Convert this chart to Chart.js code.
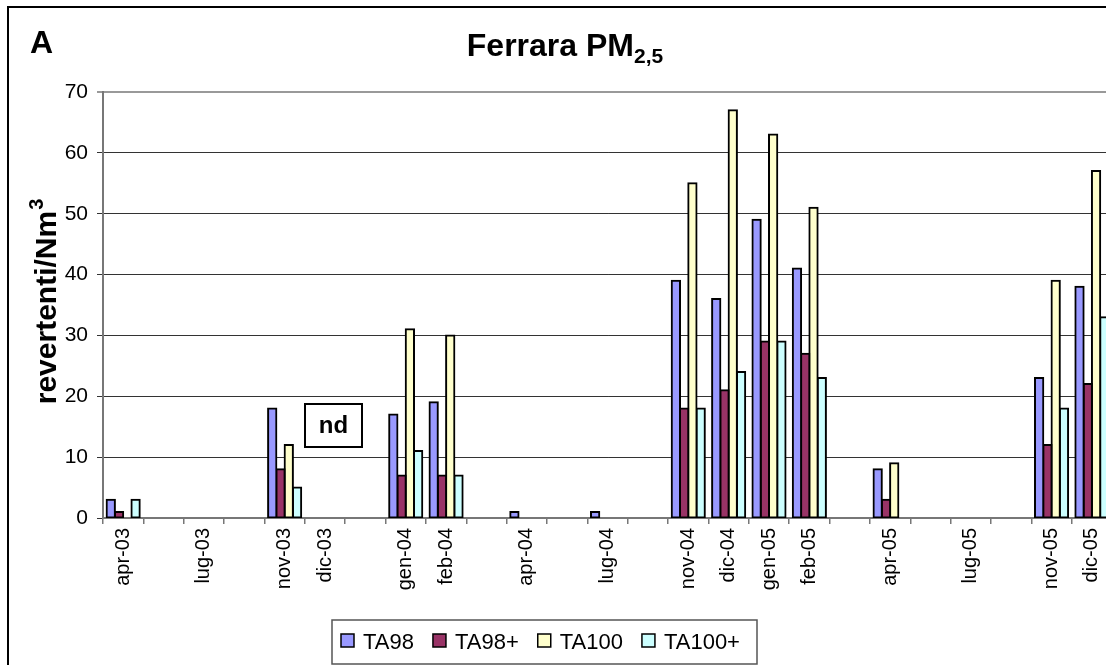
<!DOCTYPE html>
<html>
<head>
<meta charset="utf-8">
<script src="https://cdn.jsdelivr.net/npm/chart.js@4.4.1/dist/chart.umd.min.js"></script>
<style>
  html, body { margin: 0; padding: 0; overflow: hidden; background: #fff; }
  canvas { display: block; }
</style>
</head>
<body>
<canvas id="chart" width="1120" height="665" style="width:1120px;height:665px"></canvas>
<script>
// Sampling months (blank slots keep the time spacing between campaigns)
const months = ['apr-03', '', 'lug-03', '', 'nov-03', 'dic-03', '', 'gen-04', 'feb-04', '',
                'apr-04', '', 'lug-04', '', 'nov-04', 'dic-04', 'gen-05', 'feb-05', '',
                'apr-05', '', 'lug-05', '', 'nov-05', 'dic-05'];

// Revertants per Nm3 for each Salmonella strain
const ta98      = [3, null, null, null, 18, null, null, 17, 19, null, 1, null, 1, null, 39, 36, 49, 41, null, 8, null, null, null, 23, 38];
const ta98plus  = [1, null, null, null, 8, null, null, 7, 7, null, null, null, null, null, 18, 21, 29, 27, null, 3, null, null, null, 12, 22];
const ta100     = [null, null, null, null, 12, null, null, 31, 30, null, null, null, null, null, 55, 67, 63, 51, null, 9, null, null, null, 39, 57];
const ta100plus = [3, null, null, null, 5, null, null, 11, 7, null, null, null, null, null, 18, 24, 29, 23, null, null, null, null, null, 18, 33];

const seriesNames  = ['TA98', 'TA98+', 'TA100', 'TA100+'];
const seriesColors = ['#9999FF', '#993366', '#FFFFCC', '#CCFFFF'];
const yTicks = [0, 10, 20, 30, 40, 50, 60, 70];

const FONT = '"Liberation Sans", Arial, Helvetica, sans-serif';

const seriesValues = [ta98, ta98plus, ta100, ta100plus];
const datasets = seriesValues.map((vals, i) => ({
  label: seriesNames[i],
  data: vals,
  backgroundColor: seriesColors[i],
  borderColor: '#000',
  borderWidth: 2,
  borderSkipped: false,
  inflateAmount: 1,
  categoryPercentage: 0.82,
  barPercentage: 1.0
}));

// Frame, titles, "nd" note and boxed legend
const decorations = {
  id: 'decorations',
  beforeDraw(chart) {
    const ctx = chart.ctx;
    ctx.save();
    ctx.fillStyle = '#fff';
    ctx.fillRect(0, 0, chart.width, chart.height);
    ctx.restore();
  },
  afterDraw(chart) {
    const ctx = chart.ctx;
    ctx.save();

    // outer frame
    ctx.strokeStyle = '#000';
    ctx.lineWidth = 2;
    ctx.beginPath();
    ctx.moveTo(8, 700);
    ctx.lineTo(8, 7);
    ctx.lineTo(1200, 7);
    ctx.stroke();

    ctx.fillStyle = '#000';
    ctx.textBaseline = 'alphabetic';

    // panel letter
    ctx.font = 'bold 32px ' + FONT;
    ctx.textAlign = 'left';
    ctx.fillText('A', 30, 53);

    // chart title with subscript
    const main = 'Ferrara PM', sub = '2,5';
    ctx.font = 'bold 32px ' + FONT;
    const wMain = ctx.measureText(main).width;
    ctx.font = 'bold 21px ' + FONT;
    const wSub = ctx.measureText(sub).width;
    const tx = 565 - (wMain + wSub) / 2;
    ctx.font = 'bold 32px ' + FONT;
    ctx.fillText(main, tx, 56);
    ctx.font = 'bold 21px ' + FONT;
    ctx.fillText(sub, tx + wMain, 63);

    // y-axis title with superscript
    ctx.save();
    ctx.translate(56, 302);
    ctx.rotate(-Math.PI / 2);
    const yMain = 'revertenti/Nm', ySup = '3';
    ctx.font = 'bold 30px ' + FONT;
    const wy = ctx.measureText(yMain).width;
    ctx.font = 'bold 20px ' + FONT;
    const wys = ctx.measureText(ySup).width;
    const sx = -(wy + wys) / 2;
    ctx.font = 'bold 30px ' + FONT;
    ctx.fillText(yMain, sx, 0);
    ctx.font = 'bold 20px ' + FONT;
    ctx.fillText(ySup, sx + wy + 1, -13);
    ctx.restore();

    // "nd" (no data) note
    ctx.fillStyle = '#fff';
    ctx.fillRect(305, 404, 57, 43);
    ctx.strokeStyle = '#000';
    ctx.lineWidth = 2;
    ctx.strokeRect(305, 404, 57, 43);
    ctx.fillStyle = '#000';
    ctx.font = 'bold 24px ' + FONT;
    ctx.textAlign = 'center';
    ctx.textBaseline = 'middle';
    ctx.fillText('nd', 333.5, 426);

    // legend
    ctx.textAlign = 'left';
    ctx.textBaseline = 'alphabetic';
    ctx.strokeStyle = '#555';
    ctx.lineWidth = 1.5;
    ctx.strokeRect(332, 620, 425, 44);
    ctx.font = '22px ' + FONT;
    let lx = 341;
    chart.data.datasets.forEach(ds => {
      ctx.fillStyle = ds.backgroundColor;
      ctx.fillRect(lx, 634, 13, 13);
      ctx.strokeStyle = '#000';
      ctx.lineWidth = 1.5;
      ctx.strokeRect(lx, 634, 13, 13);
      ctx.fillStyle = '#000';
      ctx.fillText(ds.label, lx + 22, 649);
      lx += 22 + ctx.measureText(ds.label).width + 19;
    });

    ctx.restore();
  }
};

new Chart(document.getElementById('chart'), {
  type: 'bar',
  data: { labels: months, datasets },
  options: {
    responsive: false,
    animation: false,
    events: [],
    layout: { padding: { top: 92, right: 4, bottom: 0, left: 0 } },
    plugins: {
      legend: { display: false },
      title: { display: false },
      tooltip: { enabled: false }
    },
    scales: {
      x: {
        offset: true,
        border: { display: true, color: '#777', width: 2 },
        grid: {
          offset: true,
          drawOnChartArea: false,
          drawTicks: true,
          tickLength: 6,
          color: '#777',
          lineWidth: 1.5
        },
        ticks: {
          autoSkip: false,
          minRotation: 90,
          maxRotation: 90,
          padding: 4,
          color: '#000',
          font: { family: FONT, size: 20 }
        },
        afterFit(scale) { scale.height = 147; }
      },
      y: {
        min: 0,
        max: 70,
        border: { display: true, color: '#777', width: 2 },
        grid: {
          drawTicks: true,
          tickLength: 6,
          color: ctx => (ctx.tick && ctx.tick.value === 70) ? '#999' : '#333',
          lineWidth: ctx => (ctx.tick && ctx.tick.value === 70) ? 2 : 1
        },
        afterBuildTicks(scale) { scale.ticks = yTicks.map(v => ({ value: v })); },
        ticks: {
          padding: 9,
          color: '#000',
          font: { family: FONT, size: 21 }
        },
        afterFit(scale) { scale.width = 103; }
      }
    }
  },
  plugins: [decorations]
});
</script>
</body>
</html>
